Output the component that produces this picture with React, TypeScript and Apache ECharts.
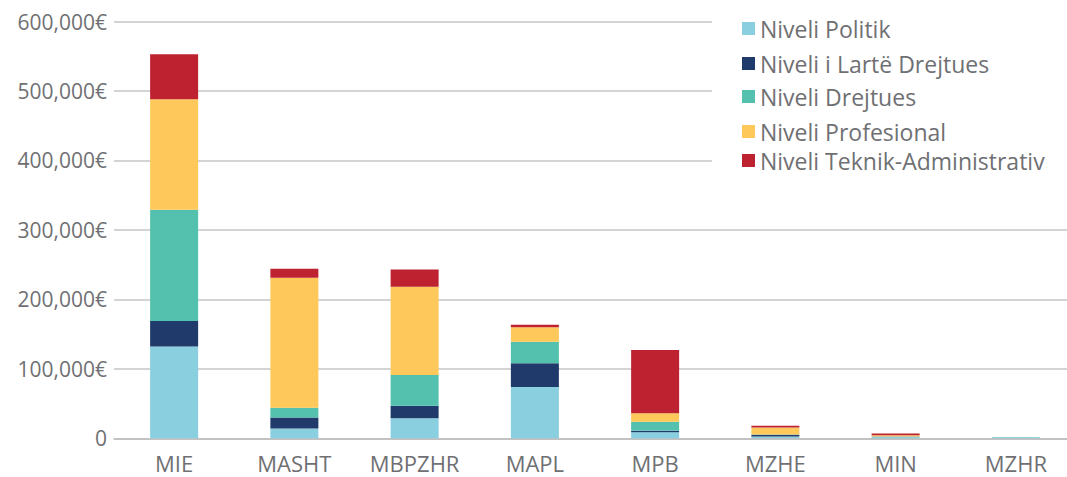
import React, { useEffect, useRef } from "react";
import * as echarts from "echarts";

const categories = ["MIE", "MASHT", "MBPZHR", "MAPL", "MPB", "MZHE", "MIN", "MZHR"];
const seriesNames = [
  "Niveli Politik",
  "Niveli i Lartë Drejtues",
  "Niveli Drejtues",
  "Niveli Profesional",
  "Niveli Teknik-Administrativ",
];
const nivelPolitik = [132000, 14000, 29000, 74000, 8700, 2500, 2000, 1500];
const nivelLarte = [37000, 16000, 18000, 34000, 2300, 2500, 200, 0];
const nivelDrejtues = [160000, 14000, 44000, 31000, 13000, 300, 300, 500];
const nivelProfesional = [159000, 187000, 127000, 21000, 12000, 10100, 1800, 0];
const nivelTeknik = [65000, 13000, 25000, 3500, 91000, 2500, 2500, 0];
const yTicks = [0, 100000, 200000, 300000, 400000, 500000, 600000];

const colors = ["#89CFE0", "#1F3A6B", "#53C1AE", "#FEC95A", "#BE2130"];
const FONT = "'Open Sans', sans-serif";
const TEXT = "#6f7073";

export default function App() {
  const ref = useRef<HTMLDivElement>(null);
  useEffect(() => {
    if (!ref.current) return;
    const chart = echarts.init(ref.current, undefined, { renderer: "svg" });
    const values = [nivelPolitik, nivelLarte, nivelDrejtues, nivelProfesional, nivelTeknik];
    const legendTops = [17, 52, 85, 120, 149];
    chart.setOption({
      animation: false,
      grid: { left: 114, right: 0, top: 21.5, bottom: 38.7, containLabel: false },
      graphic: [
        {
          type: "rect",
          z: 1,
          shape: { x: 712, y: 0, width: 370, height: 176 },
          style: { fill: "#ffffff" },
        },
      ],
      legend: seriesNames.map((n, i) => ({
        data: [n],
        left: 742,
        top: legendTops[i],
        padding: 0,
        itemWidth: 13,
        itemHeight: 13,
        icon: "rect",
        z: 5,
        textStyle: { fontFamily: FONT, fontSize: 23, color: TEXT, lineHeight: 23 },
      })),
      xAxis: {
        type: "category",
        data: categories,
        axisTick: { show: false },
        axisLine: { lineStyle: { color: "#bdbdbd", width: 1.5 } },
        axisLabel: {
          interval: 0,
          fontFamily: FONT,
          fontSize: 22,
          lineHeight: 20,
          color: TEXT,
          margin: 15,
        },
      },
      yAxis: {
        type: "value",
        min: yTicks[0],
        max: yTicks[yTicks.length - 1],
        interval: 100000,
        axisLine: { show: false },
        axisTick: { show: false },
        splitLine: { lineStyle: { color: "#c6c6c6", width: 1.5 } },
        axisLabel: {
          fontFamily: FONT,
          fontSize: 21,
          color: TEXT,
          margin: 7,
          formatter: (v: number) => (v === 0 ? "0" : v.toLocaleString("en-US") + "€"),
        },
      },
      series: seriesNames.map((n, i) => ({
        name: n,
        type: "bar",
        stack: "total",
        barWidth: 48,
        data: values[i],
        itemStyle: { color: colors[i] },
      })),
    });
    return () => chart.dispose();
  }, []);
  return (
    <div
      ref={ref}
      style={{ position: "fixed", left: 0, top: 0, width: 1076, height: 477, background: "#fff" }}
    />
  );
}
